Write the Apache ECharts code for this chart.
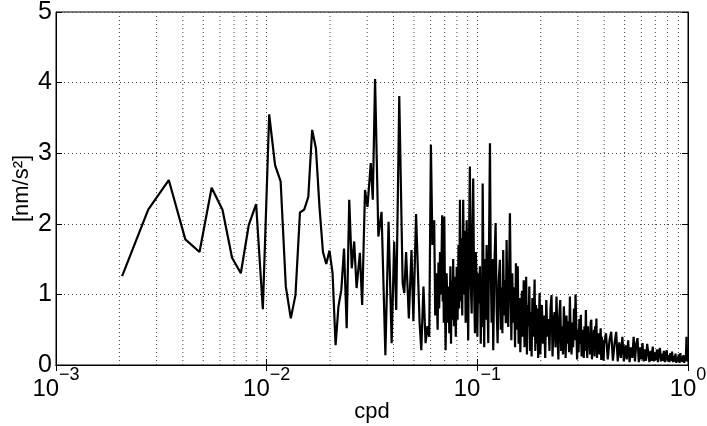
<!DOCTYPE html>
<html>
<head>
<meta charset="utf-8">
<script src="https://cdn.jsdelivr.net/npm/echarts@6/dist/echarts.min.js"></script>
<style>
html,body{margin:0;padding:0;background:#fff;}
#main{width:707px;height:426px;}
</style>
</head>
<body>
<div id="main"></div>
<script>
//低频段 (单独可见的点)
var cpdLow = [0.00206,0.00274,0.00343,0.00411,0.00480,0.00548,0.00617,0.00685,0.00754,0.00822,
	0.00891,0.00959,0.01028,0.01096,0.01165,0.01233,0.01302,0.01370,0.01439,0.01507,
	0.01576,0.01644,0.01713,0.01781,0.01850,0.01918,0.01987,0.02055,0.02124,0.02192,
	0.02261,0.02329,0.02398,0.02466,0.02535,0.02603,0.02672,
	0.0277,0.0284,0.0293,0.0301,0.0312,0.0319,0.0327,0.0339,0.0351,0.0366,0.0379,0.0392,0.0403,0.0412,0.0426,0.0442];
var ampLow = [1.26,2.20,2.62,1.78,1.60,2.51,2.20,1.52,1.30,1.98,
	2.28,0.79,3.55,2.83,2.60,1.11,0.66,0.99,2.16,2.20,
	2.38,3.33,3.07,2.24,1.60,1.43,1.62,1.30,0.28,0.83,
	1.06,1.65,0.52,2.34,1.37,1.75,1.09,
	1.59,0.85,2.48,2.24,2.86,2.34,4.05,1.82,2.17,0.14,2.03,0.31,1.75,0.78,3.81,1.16];

//中频段
var cpdMid = [0.0450,0.0459,0.0473,0.0487,0.0497,0.0512,0.0524,0.0532,0.0542,0.0555,
	0.0568,0.0580,0.0591,0.0602,0.0612,0.0617,0.0624,0.0631,0.0638,
	0.0648,0.0654,0.0659,0.0665,0.0672,0.0681,0.0685,0.0689,0.0693,0.0697,
	0.0702,0.0707,0.0715,0.0723,0.0730,0.0736,0.0745,0.0750,0.0755,0.0762,
	0.0768,0.0775,0.0783,0.0790,0.0798,0.0806,0.0814,0.0820,0.0827,0.0834,
	0.0840,0.0848,0.0857,0.0865,0.0873,0.0880,0.0890,0.0897,0.0905,0.0913,
	0.0922,0.0930,0.0940,0.0948,0.0956,0.0965,0.0974,0.0983,0.0992,0.1000,
	0.1010,0.1019,0.1029,0.1038,0.1048,0.1054,0.1060,0.1070,0.1078,0.1087,
	0.1097,0.1107,0.1117,0.1127,0.1137,0.1148,0.1158,0.1169,0.1179,0.1190,
	0.1205,0.1221,0.1235,0.1248,0.1264,0.1280,0.1292,0.1304,0.1315,0.1327,
	0.1340,0.1352,0.1365,0.1377,0.1390,0.1402,0.1415,0.1428];
var ampMid = [1.02,1.60,0.66,1.63,0.62,2.14,1.20,0.60,0.21,1.11,
	0.31,0.55,0.40,3.12,1.70,1.95,2.05,0.70,1.30,
	0.50,1.45,0.80,1.60,1.00,2.12,0.90,1.50,0.60,2.10,
	1.00,0.21,1.30,0.60,1.11,0.45,1.40,0.30,1.20,0.64,
	1.50,0.55,1.25,0.40,1.39,0.64,1.70,0.80,2.34,0.90,
	1.80,0.70,2.34,1.00,1.90,0.60,2.05,1.10,0.35,1.80,
	2.81,1.20,0.73,1.90,2.64,1.10,0.45,1.60,1.25,0.40,
	1.30,0.87,1.40,0.30,1.10,0.54,2.57,1.20,0.25,1.50,
	0.64,1.70,0.90,0.31,1.80,3.14,1.40,0.60,1.50,0.21,
	1.40,2.01,0.80,0.31,1.20,1.49,0.50,1.10,0.45,1.63,
	0.70,1.20,0.59,1.77,0.80,0.54,1.30,2.15];

//高频段
var cpdHigh = [0.145,0.1465,0.148,0.1495,0.151,0.1525,0.154,0.1555,0.157,0.1585,
	0.160,0.1615,0.163,0.1645,0.166,0.1675,0.169,0.1705,0.172,0.1735,
	0.175,0.1765,0.178,0.1795,0.181,0.1825,0.184,0.1855,0.187,0.1885,
	0.190,0.1915,0.193,0.1945,0.196,0.1975,0.199,
	0.2025,0.205,0.2075,0.210,0.2125,0.215,0.2175,0.220,0.2225,0.225,
	0.2275,0.230,0.2325,0.235,0.2375,0.240,0.2425,0.245,0.2475,0.250,
	0.2525,0.255,0.2575,0.260,0.2625,0.265,0.2675,0.270,0.2725,0.275,
	0.2775,0.280,0.2825,0.285,0.2875,0.290,0.2925,0.295,0.2975,0.300,
	0.3025,0.305,0.3075,0.310,0.3125,0.315,0.3175,0.320,0.3225,0.325,
	0.3275,0.330,0.3325,0.335,0.3375,0.340,0.3425,0.345,0.3475,0.350,
	0.3525,0.355,0.3575,0.360,0.3625,0.365,0.3675,0.370,0.3725,0.375,
	0.3775,0.380,0.3825,0.385,0.3875,0.390,0.3925,0.395,0.3975,0.400,
	0.408,0.416,0.424,0.432,0.440,0.448,0.456,0.464,0.472,0.480,
	0.488,0.496,0.504,0.512,0.520,0.528,0.536,0.544,0.552,0.560,
	0.568,0.576,0.584,0.592,0.600,0.608,0.616,0.624,0.632,0.640,
	0.648,0.656,0.664,0.672,0.680,0.688,0.696,0.704,0.712,0.720,
	0.728,0.736,0.744,0.752,0.760,0.768,0.776,0.784,0.792,0.800,
	0.808,0.816,0.824,0.832,0.840,0.848,0.856,0.864,0.872,0.880,
	0.888,0.896,0.904,0.912,0.920,0.928,0.936,0.944,0.952,0.960,
	0.968,0.976,0.984,0.992,1.000];
var ampHigh = [0.35,1.30,0.60,1.10,0.25,1.44,0.50,1.40,0.30,0.95,
	0.18,0.80,1.05,0.40,1.20,0.25,0.90,1.25,0.15,0.85,
	0.55,1.11,0.20,0.75,0.12,0.95,0.40,0.70,1.21,0.20,
	0.85,0.30,0.80,0.10,0.60,1.02,0.15,
	0.85,0.30,0.70,0.10,0.92,0.40,0.65,0.20,0.80,0.99,
	0.12,0.60,0.75,0.25,0.97,0.45,0.08,0.70,0.92,0.20,
	0.55,0.15,0.83,0.45,0.10,0.70,0.30,0.62,0.18,0.97,
	0.40,0.15,0.60,0.25,0.80,0.35,1.00,0.55,0.08,0.50,
	0.18,0.65,0.30,0.71,0.12,0.50,0.35,0.10,0.55,0.20,
	0.78,0.30,0.10,0.55,0.25,0.45,0.15,0.60,0.64,0.08,
	0.45,0.20,0.50,0.12,0.55,0.30,0.66,0.10,0.40,0.22,
	0.45,0.15,0.35,0.52,0.07,0.40,0.12,0.35,0.06,0.30,
	0.45,0.08,0.35,0.47,0.06,0.30,0.47,0.05,0.32,0.10,
	0.40,0.05,0.28,0.08,0.35,0.04,0.25,0.10,0.40,0.05,
	0.30,0.38,0.04,0.25,0.08,0.31,0.05,0.22,0.06,0.30,
	0.31,0.04,0.20,0.06,0.26,0.05,0.18,0.07,0.22,0.04,
	0.20,0.24,0.05,0.16,0.06,0.20,0.04,0.15,0.21,0.05,
	0.14,0.04,0.17,0.06,0.19,0.04,0.13,0.05,0.16,0.03,
	0.12,0.05,0.15,0.03,0.17,0.05,0.12,0.04,0.14,0.03,
	0.11,0.06,0.40,0.05,0.08];

var cpd = cpdLow.concat(cpdMid, cpdHigh);
var amp = ampLow.concat(ampMid, ampHigh);
var lineData = [];
for (var i = 0; i < cpd.length; i++) {
	lineData.push([cpd[i], amp[i]]);
}

//对数网格线 2..9 (每条线两点, 中间用 '-' 断开)
var yMin = 0, yMax = 5;
var minorGrid = [];
[0.001, 0.01, 0.1].forEach(function (d) {
	for (var m = 2; m <= 9; m++) {
		var gx = +(d * m).toPrecision(3);
		minorGrid.push([gx, yMin], [gx, yMax], [gx, '-']);
	}
});

var font = 'Liberation Sans, Arial, Helvetica, sans-serif';
var dotted = { type: [1, 3], color: '#444', width: 1 };

var myChart = echarts.init(document.getElementById('main'));
var option = {
	animation: false,
	backgroundColor: '#fff',
	grid: {
		left: 56, right: 19, top: 12, bottom: 61,
		containLabel: false,
		outerBoundsMode: 'none',
		show: true, borderColor: '#000', borderWidth: 1, backgroundColor: 'transparent'
	},
	xAxis: [
		{
			type: 'log',
			logBase: 10,
			min: 0.001,
			max: 1,
			name: 'cpd',
			nameLocation: 'middle',
			nameGap: 36,
			nameMoveOverlap: false,
			nameTextStyle: { fontSize: 22, color: '#000', fontFamily: font },
			axisLine: { lineStyle: { color: '#000', width: 1 } },
			axisTick: { inside: true, length: 6, lineStyle: { color: '#000' } },
			splitLine: { show: true, lineStyle: dotted },
			axisLabel: {
				margin: 1,
				color: '#000',
				formatter: function (v) {
					var e = Math.round(Math.log10(v));
					return '{b|10}{e|' + (e < 0 ? '\u2212' + (-e) : e) + '}';
				},
				rich: {
					b: { fontSize: 24, fontFamily: font, color: '#000', lineHeight: 46 },
					e: { fontSize: 18, fontFamily: font, color: '#000', verticalAlign: 'top', lineHeight: 18 }
				}
			}
		},
		{
			type: 'log',
			logBase: 10,
			min: 0.001,
			max: 1,
			position: 'top',
			axisLine: { lineStyle: { color: '#000', width: 1 } },
			axisTick: { inside: true, length: 6, lineStyle: { color: '#000' } },
			axisLabel: { show: false },
			splitLine: { show: false }
		}
	],
	yAxis: [
		{
			type: 'value',
			min: yMin,
			max: yMax,
			interval: 1,
			name: '[nm/s\u00b2]',
			nameLocation: 'middle',
			nameGap: 23,
			nameMoveOverlap: false,
			nameRotate: 90,
			nameTextStyle: { fontSize: 22, color: '#000', fontFamily: font },
			axisLine: { show: true, lineStyle: { color: '#000', width: 1 } },
			axisTick: { show: true, inside: true, length: 6, lineStyle: { color: '#000' } },
			splitLine: { show: true, lineStyle: dotted },
			axisLabel: { fontSize: 25, color: '#000', fontFamily: font, margin: 4 }
		},
		{
			type: 'value',
			min: yMin,
			max: yMax,
			interval: 1,
			position: 'right',
			axisLine: { show: true, lineStyle: { color: '#000', width: 1 } },
			axisTick: { show: true, inside: true, length: 6, lineStyle: { color: '#000' } },
			axisLabel: { show: false },
			splitLine: { show: false }
		}
	],
	series: [
		{
			type: 'line',
			xAxisIndex: 0,
			yAxisIndex: 0,
			data: minorGrid,
			showSymbol: false,
			symbol: 'none',
			silent: true,
			connectNulls: false,
			lineStyle: dotted,
			z: 1
		},
		{
			type: 'line',
			xAxisIndex: 0,
			yAxisIndex: 0,
			data: lineData,
			showSymbol: false,
			symbol: 'none',
			sampling: null,
			lineStyle: { color: '#000', width: 2.2 },
			z: 3
		}
	]
};
myChart.setOption(option, true);
</script>
</body>
</html>
